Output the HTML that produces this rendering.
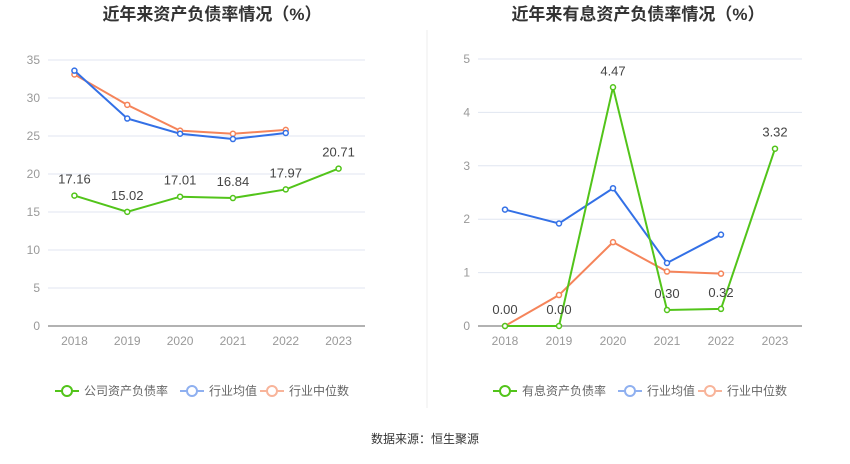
<!DOCTYPE html>
<html><head><meta charset="utf-8"><style>
body{margin:0;background:#fff;font-family:"Liberation Sans","Noto Sans CJK SC",sans-serif;}
svg text{font-family:"Liberation Sans","Noto Sans CJK SC",sans-serif;}
</style></head><body>
<svg id="s" width="850" height="459" xmlns="http://www.w3.org/2000/svg">
<text x="212" y="20" text-anchor="middle" font-size="17" font-weight="bold" fill="#333">近年来资产负债率情况（%）</text>
<text x="638" y="20" text-anchor="middle" font-size="17" font-weight="bold" fill="#333">近年来有息资产负债率情况（%）</text>
<line x1="427" y1="30" x2="427" y2="408" stroke="#eee"/>
<text x="425" y="443" text-anchor="middle" font-size="12" fill="#333">数据来源：恒生聚源</text>
<g id="g"></g>
</svg>
<script>
const years=["2018","2019","2020","2021","2022","2023"];
const leftCompany=[17.16,15.02,17.01,16.84,17.97,20.71];
const leftAvg=[33.6,27.3,25.3,24.6,25.4];
const leftMedian=[33.1,29.1,25.7,25.3,25.8];
const leftTicks=[0,5,10,15,20,25,30,35];
const rightCompany=[0,0,4.47,0.30,0.32,3.32];
const rightAvg=[2.18,1.92,2.58,1.18,1.71];
const rightMedian=[0,0.58,1.57,1.02,0.98];
const rightTicks=[0,1,2,3,4,5];
const legendLeft=["公司资产负债率","行业均值","行业中位数"];
const legendRight=["有息资产负债率","行业均值","行业中位数"];
const NS="http://www.w3.org/2000/svg";
const g=document.getElementById('g');
function el(t,a,p){const e=document.createElementNS(NS,t);for(const k in a)e.setAttribute(k,a[k]);(p||g).appendChild(e);return e;}
function chart(cfg){
 const {x0,x1,yTop,yBot,max,ticks,series,labels,prefix}=cfg;
 const step=(x1-x0)/years.length;
 const X=i=>x0+step*(i+0.5);
 const Y=v=>yBot-(v/max)*(yBot-yTop);
 ticks.forEach(t=>{
  const l=el('line',{x1:x0,x2:x1,y1:Y(t),y2:Y(t),stroke:t===0?'#666':'#e0e6f1'});
  
  
  const tx=el('text',{x:x0-8,y:Y(t)+4,'text-anchor':'end','font-size':12,fill:'#999'});tx.textContent=t;
  
  
 });
 years.forEach((y,i)=>{
  const tx=el('text',{x:X(i),y:yBot+19,'text-anchor':'middle','font-size':12,fill:'#999'});tx.textContent=y;
  
  
 });
 series.forEach(s=>{
  const pts=s.data.map((v,i)=>X(i)+','+Y(v)).join(' ');
  const pl=el('polyline',{points:pts,fill:'none',stroke:s.color,'stroke-width':2});
  
  
  s.data.forEach((v,i)=>{
   const c=el('circle',{cx:X(i),cy:Y(v),r:2.5,fill:'#fff',stroke:s.color,'stroke-width':1.5});
   
   
  });
 });
 const comp=series[series.length-1];
 comp.data.forEach((v,i)=>{
  const tx=el('text',{x:X(i),y:Y(v)-12,'text-anchor':'middle','font-size':13,fill:'#444'});tx.textContent=v.toFixed(2);
  
  
 });
 const colors=['#52c41a','#8fb0f0','#f8b49a'];
 const lx=[cfg.legendX,cfg.legendX+125,cfg.legendX+205];
 labels.forEach((lab,k)=>{
  const lg=el('g',{});
  
  
  el('line',{x1:lx[k],x2:lx[k]+24,y1:391,y2:391,stroke:colors[k],'stroke-width':2},lg);
  el('circle',{cx:lx[k]+12,cy:391,r:5,fill:'#fff',stroke:colors[k],'stroke-width':2},lg);
  const t=el('text',{x:lx[k]+29,y:395,'font-size':12,fill:'#666'},lg);t.textContent=lab;
 });
}
chart({x0:48,x1:365,yTop:60,yBot:326,max:35,ticks:leftTicks,labels:legendLeft,prefix:'left',legendX:55,
 series:[{name:'median',data:leftMedian,color:'#f5845a'},{name:'avg',data:leftAvg,color:'#3370e6'},{name:'company',data:leftCompany,color:'#52c41a'}]});
chart({x0:478,x1:802,yTop:59,yBot:326,max:5,ticks:rightTicks,labels:legendRight,prefix:'right',legendX:493,
 series:[{name:'median',data:rightMedian,color:'#f5845a'},{name:'avg',data:rightAvg,color:'#3370e6'},{name:'company',data:rightCompany,color:'#52c41a'}]});
</script>
</body></html>
